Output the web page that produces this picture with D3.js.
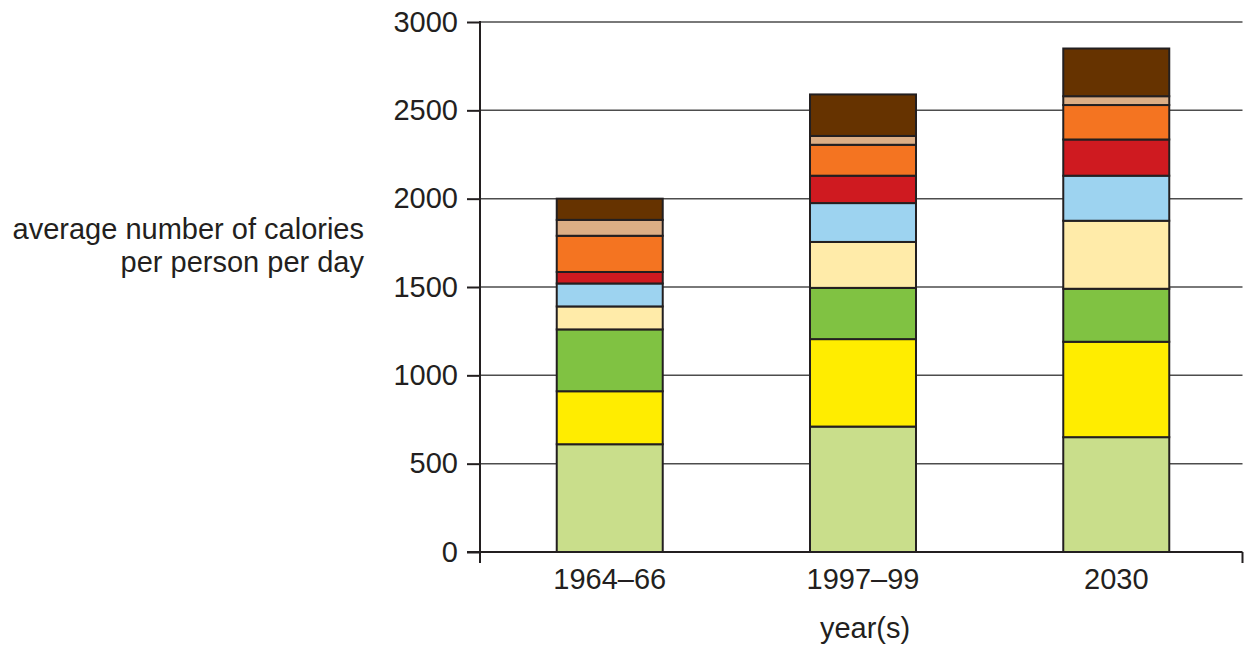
<!DOCTYPE html>
<html>
<head>
<meta charset="utf-8">
<script src="https://cdn.jsdelivr.net/npm/d3@7"></script>
<style>
  body { margin: 0; background: #fff; }
  text { font-family: "Liberation Sans", Arial, sans-serif; fill: #231f20; }
</style>
</head>
<body>
<div id="chart"></div>
<script>
// categories on the x axis
var periods = ["1964–66", "1997–99", "2030"];

// stack layers, bottom to top
var layers = ["layer1", "layer2", "layer3", "layer4", "layer5", "layer6", "layer7", "layer8", "layer9"];
var layerColors = ["#c9de8b", "#ffed00", "#80c242", "#ffeba9", "#9dd3f0", "#cf1a20", "#f47421", "#dcae85", "#663300"];

// calories per layer for each period (bottom to top)
var values1964 = [610, 300, 350, 130, 130, 65, 205, 90, 120];
var values1997 = [710, 495, 290, 260, 220, 155, 175, 50, 235];
var values2030 = [650, 540, 300, 385, 255, 205, 195, 50, 270];

var yTicks = [0, 500, 1000, 1500, 2000, 2500, 3000];

var width = 1245, height = 650;
var margin = { top: 22, right: 2, bottom: 98, left: 480 };
var fontSize = "29px";
var axisEnd = width - margin.right - 0.5;

var svg = d3.select("#chart").append("svg")
  .attr("width", width)
  .attr("height", height);

// build rows for the stack
var allValues = [values1964, values1997, values2030];
var rows = periods.map(function(p, i) {
  var row = { period: p };
  layers.forEach(function(k, j) { row[k] = allValues[i][j]; });
  return row;
});

var stacked = d3.stack().keys(layers)(rows);

var x = d3.scaleBand()
  .domain(periods)
  .range([margin.left, margin.left + 766])
  .paddingInner(0.5815)
  .paddingOuter(0.303);

var y = d3.scaleLinear()
  .domain([0, 3000])
  .range([height - margin.bottom, margin.top]);

// horizontal grid lines
svg.append("g")
  .attr("class", "grid")
  .selectAll("line")
  .data(yTicks.slice(1))
  .enter().append("line")
  .attr("x1", margin.left)
  .attr("x2", axisEnd)
  .attr("y1", function(d) { return y(d); })
  .attr("y2", function(d) { return y(d); })
  .attr("stroke", "#4d4d4d")
  .attr("stroke-width", 1.5);

// bars
var groups = svg.append("g")
  .selectAll("g")
  .data(stacked)
  .enter().append("g")
  .attr("fill", function(d, i) { return layerColors[i]; });

groups.selectAll("rect")
  .data(function(d) { return d; })
  .enter().append("rect")
  .attr("x", function(d) { return x(d.data.period); })
  .attr("width", x.bandwidth())
  .attr("y", function(d) { return y(d[1]); })
  .attr("height", function(d) { return y(d[0]) - y(d[1]); })
  .attr("stroke", "#231f20")
  .attr("stroke-width", 2);

// y axis
var yAxis = d3.axisLeft(y)
  .tickValues(yTicks)
  .tickFormat(d3.format("d"))
  .tickSize(13)
  .tickPadding(9);

var yg = svg.append("g")
  .attr("transform", "translate(" + margin.left + ",0)")
  .call(yAxis);
yg.select(".domain").remove();
yg.selectAll(".tick line").attr("stroke", "#231f20").attr("stroke-width", 2);
yg.selectAll(".tick text").attr("font-size", fontSize).attr("font-family", "Liberation Sans, Arial, sans-serif").attr("fill", "#231f20");

svg.append("line")
  .attr("x1", margin.left).attr("x2", margin.left)
  .attr("y1", y(3000) - 1).attr("y2", y(0) + 11)
  .attr("stroke", "#231f20").attr("stroke-width", 2);

// x axis
var xAxis = d3.axisBottom(x)
  .tickSize(0)
  .tickPadding(16);

var xg = svg.append("g")
  .attr("transform", "translate(0," + y(0) + ")")
  .call(xAxis);
xg.select(".domain").remove();
xg.selectAll(".tick text").attr("font-size", fontSize).attr("font-family", "Liberation Sans, Arial, sans-serif").attr("fill", "#231f20");

svg.append("line")
  .attr("x1", margin.left - 13).attr("x2", axisEnd)
  .attr("y1", y(0)).attr("y2", y(0))
  .attr("stroke", "#231f20").attr("stroke-width", 2);

svg.append("line")
  .attr("x1", axisEnd).attr("x2", axisEnd)
  .attr("y1", y(0)).attr("y2", y(0) + 11)
  .attr("stroke", "#231f20").attr("stroke-width", 2);

// axis titles
var yTitle = svg.append("text")
  .attr("text-anchor", "end")
  .attr("font-size", fontSize);
yTitle.append("tspan").attr("x", 364).attr("y", 239).text("average number of calories");
yTitle.append("tspan").attr("x", 364).attr("y", 272).text("per person per day");

svg.append("text")
  .attr("x", 865)
  .attr("y", 638)
  .attr("text-anchor", "middle")
  .attr("font-size", fontSize)
  .text("year(s)");
</script>
</body>
</html>
